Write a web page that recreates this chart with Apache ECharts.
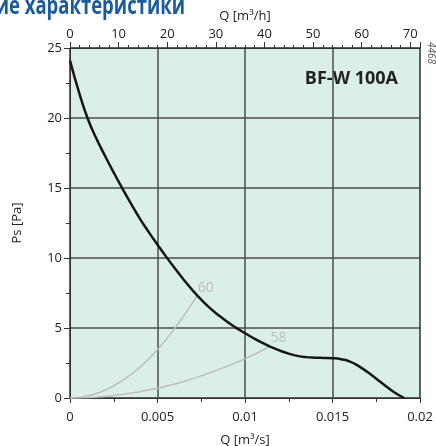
<!DOCTYPE html>
<html><head><meta charset="utf-8">
<script src="https://cdn.jsdelivr.net/npm/echarts@6/dist/echarts.min.js"></script>
<style>html,body{margin:0;padding:0;background:#fff}#c{width:436px;height:446px}</style>
</head><body><div id="c"></div>
<script>
// Fan curve BF-W 100A : Q [m3/s] vs Ps [Pa]
const fanQ  = [0,0.0005,0.001,0.0015,0.002,0.0025,0.003,0.0035,0.004,0.0045,0.005,0.0055,0.006,0.0065,0.007,0.0075,0.008,0.0085,0.009,0.0095,0.01,0.0105,0.011,0.0115,0.012,0.0125,0.013,0.0135,0.014,0.0145,0.015,0.0155,0.016,0.0165,0.017,0.0175,0.018,0.0185,0.0191];
const fanPs = [24.1,21.9,20.0,18.55,17.3,16.1,14.95,13.85,12.8,11.85,10.95,10.08,9.25,8.45,7.7,7.02,6.42,5.9,5.43,5.01,4.63,4.27,3.94,3.64,3.38,3.17,3.01,2.92,2.88,2.86,2.84,2.77,2.6,2.28,1.85,1.38,0.9,0.43,0];
// System curves (grey) with their labels
const sys60Q  = [0,0.001,0.002,0.003,0.004,0.005,0.006,0.00724];
const sys60Ps = [0,0.14,0.55,1.25,2.2,3.45,5.0,7.24];
const sys58Q  = [0,0.002,0.004,0.006,0.008,0.01,0.0114];
const sys58Ps = [0,0.11,0.45,1.0,1.8,2.8,3.67];
const sysLabels = ['60','58'];
// Axis ticks
const xTicksS = [0,0.005,0.01,0.015,0.02];
const xTicksH = [0,10,20,30,40,50,60,70];
const yTicks  = [0,5,10,15,20,25];

const zip=(a,b)=>a.map((v,i)=>[v,b[i]]);
const FONT='"Open Sans", "Noto Sans", sans-serif';
const axCol='#333';
const chart=echarts.init(document.getElementById('c'),null,{renderer:'canvas'});
const lbl={color:'#222',fontSize:13,fontFamily:FONT};
chart.setOption({
  animation:false,
  grid:{left:70,right:16,top:48,bottom:48,containLabel:false,outerBoundsMode:'none',show:true,backgroundColor:'#daeeea',borderColor:axCol,borderWidth:1},
  xAxis:[
    {type:'value',position:'bottom',min:xTicksS[0],max:xTicksS[xTicksS.length-1],interval:0.005,
     name:'Q [m³/s]',nameLocation:'middle',nameGap:36,nameTextStyle:{color:'#222',fontSize:13,fontFamily:FONT},
     axisLine:{lineStyle:{color:axCol,width:1}},
     axisTick:{show:true,length:5,inside:false,lineStyle:{color:axCol}},
     minorTick:{show:true,splitNumber:2,length:4,lineStyle:{color:axCol}},
     axisLabel:Object.assign({margin:13,formatter:v=>String(+v.toFixed(3))},lbl),
     splitLine:{show:true,lineStyle:{color:'#4d4d4d',width:1.5}}},
    {type:'value',position:'top',min:0,max:72,interval:2,
     axisLine:{lineStyle:{color:axCol}},
     axisTick:{show:true,length:3,lineStyle:{color:axCol}},
     axisLabel:{show:false},splitLine:{show:false}},
    {type:'value',position:'top',min:0,max:72,interval:10,
     name:'Q [m³/h]',nameLocation:'middle',nameGap:21,nameTextStyle:{color:'#222',fontSize:13,fontFamily:FONT},
     axisLine:{show:false},
     axisTick:{show:true,length:6,lineStyle:{color:axCol}},
     axisLabel:Object.assign({margin:7,formatter:v=>xTicksH.includes(v)?String(v):''},lbl),
     splitLine:{show:false}}
  ],
  yAxis:{type:'value',min:yTicks[0],max:yTicks[yTicks.length-1],interval:5,
     name:'Ps [Pa]',nameLocation:'middle',nameGap:46,nameRotate:90,nameTextStyle:{color:'#222',fontSize:13,fontFamily:FONT},
     axisLine:{show:true,lineStyle:{color:axCol}},
     axisTick:{show:true,length:6,lineStyle:{color:axCol}},
     minorTick:{show:true,splitNumber:2,length:4,lineStyle:{color:axCol}},
     axisLabel:Object.assign({margin:8},lbl),
     splitLine:{show:true,lineStyle:{color:'#4d4d4d',width:1.5}}},
  series:[
    {type:'line',data:zip(sys60Q,sys60Ps),smooth:true,symbol:'none',lineStyle:{color:'#bdbdbd',width:1.5},
     endLabel:{show:true,formatter:sysLabels[0],color:'#bdbdbd',fontSize:14,fontFamily:FONT,offset:[-7,-9]}},
    {type:'line',data:zip(sys58Q,sys58Ps),smooth:true,symbol:'none',lineStyle:{color:'#bdbdbd',width:1.5},
     endLabel:{show:true,formatter:sysLabels[1],color:'#bdbdbd',fontSize:14,fontFamily:FONT,offset:[-7,-9]}},
    {type:'line',data:zip(fanQ,fanPs),smooth:true,symbol:'none',lineStyle:{color:'#161616',width:2.5},z:5}
  ],
  graphic:[
    {type:'text',x:185,y:-6,scaleX:0.74,style:{text:'Аэродинамические характеристики',fill:'#1b5c9e',font:'bold 25px '+FONT,textAlign:'right',textVerticalAlign:'top'}},
    {type:'text',x:398,y:70,style:{text:'BF-W 100A',fill:'#222',font:'bold 18px '+FONT,textAlign:'right',textVerticalAlign:'top'}},
    {type:'text',x:431,y:53,rotation:-Math.PI/2,style:{text:'4468',fill:'#555',font:'italic 10px '+FONT,textAlign:'center',textVerticalAlign:'middle'}}
  ]
});
</script></body></html>
